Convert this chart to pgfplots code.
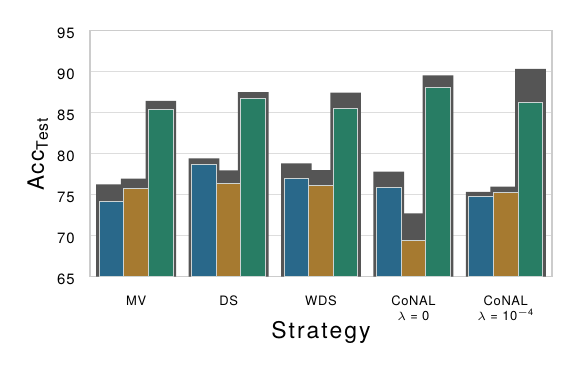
\documentclass[border=0pt]{standalone}
\usepackage{fontspec}
\setmainfont[LetterSpace=5]{TeX Gyre Heros}
\usepackage{pgfplots}
\pgfplotsset{compat=1.18}
\definecolor{cblue}{RGB}{41,104,138}
\definecolor{cgold}{RGB}{166,122,48}
\definecolor{cgreen}{RGB}{40,125,100}
\definecolor{cgray}{RGB}{85,85,85}
\definecolor{cedge}{RGB}{205,212,212}
\definecolor{cframe}{RGB}{204,204,204}
\definecolor{cgrid}{RGB}{221,221,221}
\begin{document}
\begin{tikzpicture}
\useasboundingbox (-45bp,-53.65bp) rectangle (243bp,138.35bp);
\begin{axis}[
  at={(0,0)}, anchor=south west,
  width=231bp, height=123bp, scale only axis,
  ybar,
  xmin=-0.5, xmax=4.5, ymin=65, ymax=95,
  xtick={0,1,2,3,4},
  xticklabels={MV, DS, WDS, {CoNAL\\$\lambda$ = 0}, {CoNAL\\$\lambda$ = 10\textsuperscript{$-$4}}},
  ytick={65,70,75,80,85,90,95},
  major tick length=0pt,
  /pgf/number format/assume math mode=true,
  xticklabel style={font={\fontsize{6.5}{7.6}\selectfont}, align=center, anchor=north, inner sep=0pt, yshift=-9.5bp},
  yticklabel style={font={\fontsize{7.5}{9}\selectfont}, anchor=east, inner sep=0pt, xshift=-7.5bp, yshift=-1.2bp},
  ymajorgrids=true,
  major grid style={draw=cgrid, line width=0.55bp},
  axis line style={draw=cframe, line width=0.65bp},
  xlabel={Strategy},
  ylabel={Acc\textsubscript{Test}},
  xlabel style={font={\fontsize{11.5}{13}\selectfont\addfontfeatures{LetterSpace=9}}, at={(axis description cs:0.5,0)}, anchor=base, yshift=-31bp},
  ylabel style={font={\fontsize{11.3}{13}\selectfont\addfontfeatures{LetterSpace=7}}, at={(axis description cs:-0.0996,0.5)}, anchor=base},
]
% gray background bars
\addplot[fill=cgray, draw=none, bar width=0.332, bar shift=-0.2667] coordinates {(0,76.27) (1,79.44) (2,78.83) (3,77.8) (4,75.33)};
\addplot[fill=cgray, draw=none, bar width=0.332, bar shift=0] coordinates {(0,76.95) (1,77.97) (2,78.0) (3,72.73) (4,75.98)};
\addplot[fill=cgray, draw=none, bar width=0.332, bar shift=0.2667] coordinates {(0,86.43) (1,87.52) (2,87.44) (3,89.56) (4,90.33)};
% front bars
\addplot[fill=cblue, draw=cedge, line width=0.5bp, bar width=0.2667, bar shift=-0.2667] coordinates {(0,74.15) (1,78.74) (2,77.0) (3,75.9) (4,74.76)};
\addplot[fill=cgold, draw=cedge, line width=0.5bp, bar width=0.2667, bar shift=0] coordinates {(0,75.7) (1,76.39) (2,76.1) (3,69.44) (4,75.24)};
\addplot[fill=cgreen, draw=cedge, line width=0.5bp, bar width=0.2667, bar shift=0.2667] coordinates {(0,85.33) (1,86.71) (2,85.54) (3,88.05) (4,86.22)};
\end{axis}
\end{tikzpicture}
\end{document}
